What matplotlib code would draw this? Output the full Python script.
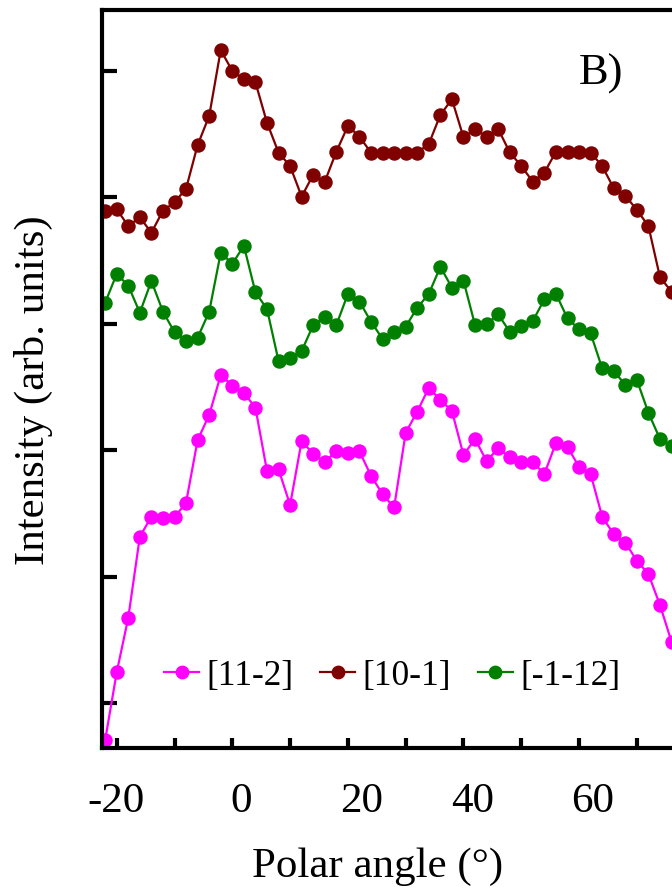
import matplotlib
matplotlib.use("Agg")
import matplotlib.pyplot as plt
from matplotlib.ticker import MultipleLocator, NullFormatter
from matplotlib.transforms import ScaledTranslation

plt.rcParams['font.family'] = ['Liberation Serif', 'DejaVu Serif']

# Polar angle scan (degrees), 2-degree steps
angle = list(range(-22, 78, 2))

# Intensity profiles along the three azimuths (arb. units, stacked)
i_11m2 = [0.710, 1.245, 1.677, 2.317, 2.475, 2.467, 2.470, 2.586, 3.081, 3.279,
          3.595, 3.511, 3.455, 3.337, 2.836, 2.850, 2.568, 3.074, 2.971, 2.908,
          2.992, 2.976, 2.992, 2.799, 2.653, 2.548, 3.139, 3.305, 3.495, 3.398,
          3.311, 2.963, 3.089, 2.915, 3.016, 2.945, 2.911, 2.906, 2.813, 3.058,
          3.028, 2.868, 2.813, 2.475, 2.336, 2.270, 2.127, 2.022, 1.777, 1.487]

i_10m1 = [4.894, 4.905, 4.773, 4.842, 4.720, 4.894, 4.960, 5.068, 5.413, 5.643,
          6.164, 5.998, 5.935, 5.909, 5.590, 5.353, 5.247, 5.005, 5.179, 5.123,
          5.360, 5.564, 5.479, 5.353, 5.353, 5.353, 5.353, 5.353, 5.421, 5.651,
          5.775, 5.474, 5.538, 5.479, 5.540, 5.356, 5.247, 5.123, 5.195, 5.360,
          5.360, 5.360, 5.353, 5.247, 5.071, 5.013, 4.900, 4.773, 4.368, 4.254]

i_m1m12 = [4.167, 4.394, 4.301, 4.088, 4.338, 4.096, 3.933, 3.866, 3.890, 4.096,
           4.562, 4.473, 4.617, 4.249, 4.117, 3.706, 3.732, 3.785, 3.990, 4.051,
           3.990, 4.236, 4.175, 4.017, 3.880, 3.933, 3.977, 4.127, 4.236, 4.451,
           4.285, 4.341, 3.990, 3.998, 4.075, 3.938, 3.985, 4.022, 4.194, 4.236,
           4.043, 3.957, 3.925, 3.648, 3.629, 3.516, 3.556, 3.297, 3.089, 3.034]

labels = ['[11-2]', '[10-1]', '[-1-12]']
colors = ['#FF00FF', '#800000', '#008000']
x_ticks = [-20, 0, 20, 40, 60]

fig = plt.figure(figsize=(6.72, 8.88), dpi=100)
# Panel runs past the right edge of the page
ax = fig.add_axes([0.1522, 0.1577, 0.8815, 0.8310])

for y, lab, c in zip([i_11m2, i_10m1, i_m1m12], labels, colors):
    ax.plot(angle, y, '-o', color=c, lw=1.6, ms=9.4, mec=c, mfc=c, label=lab)

ax.set_xlim(-22.5, 80)
ax.set_ylim(0.647, 6.48)

ax.set_xticks(x_ticks)
ax.set_xticklabels([str(t) for t in x_ticks])
ax.xaxis.set_minor_locator(MultipleLocator(10))
ax.yaxis.set_major_locator(MultipleLocator(1))
ax.yaxis.set_major_formatter(NullFormatter())

for s in ax.spines.values():
    s.set_linewidth(3.0)

ax.tick_params(axis='x', which='both', direction='in', length=7.5, width=3.0,
               labelsize=31, pad=25, top=False)
ax.tick_params(axis='y', which='both', direction='in', length=11, width=3.0,
               right=False)

# small horizontal nudges of the angle labels (points)
nudges = [-0.5, 6, 10, 6.5, 10]
for tick, dx in zip(ax.xaxis.get_major_ticks(), nudges):
    tick.label1.set_transform(tick.label1.get_transform()
                              + ScaledTranslation(dx / 72, 0, fig.dpi_scale_trans))

fig.text(378 / 672, (888 - 877) / 888, 'Polar angle (°)', fontsize=31,
         ha='center', va='baseline')
fig.text(33 / 672, (888 - 390) / 888, 'Intensity (arb. units)', fontsize=31,
         rotation=90, ha='center', va='center')
fig.text(601 / 672, (888 - 85) / 888, 'B)', fontsize=32, ha='center',
         va='baseline')

fig.legend(loc='center', bbox_to_anchor=(392 / 672, (888 - 676) / 888),
           ncol=3, frameon=False, fontsize=25.5, handlelength=1.0,
           handletextpad=0.2, columnspacing=0.75, markerscale=0.95,
           borderaxespad=0)

fig.savefig('out.png', dpi=100)
